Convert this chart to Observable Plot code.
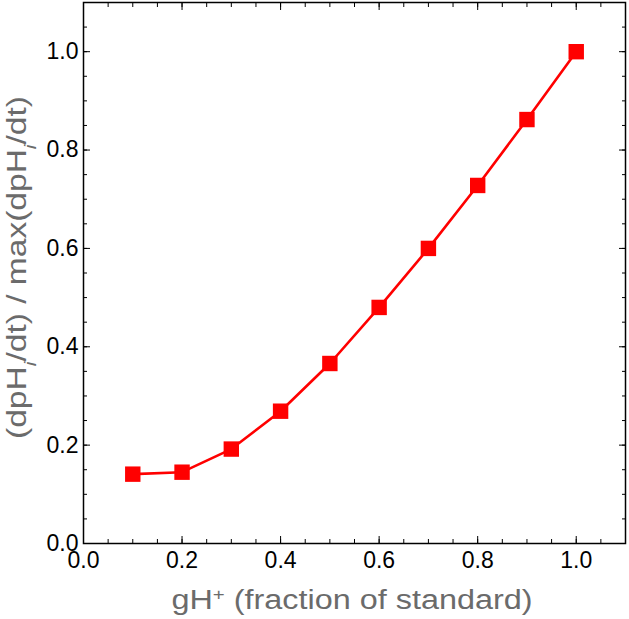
<!DOCTYPE html>
<html><head><meta charset="utf-8">
<script src="https://cdn.jsdelivr.net/npm/d3@7"></script>
<script src="https://cdn.jsdelivr.net/npm/@observablehq/plot@0.6"></script>
<style>html,body{margin:0;padding:0;background:#fff}</style>
</head><body><div id="chart"></div>
<script>
const gH = [0.1, 0.2, 0.3, 0.4, 0.5, 0.6, 0.7, 0.8, 0.9, 1.0];
const rate = [0.141, 0.145, 0.192, 0.269, 0.366, 0.480, 0.600, 0.728, 0.862, 1.0];
const majorTicks = [0, 0.2, 0.4, 0.6, 0.8, 1.0];
const minorTicks = [0, 0.05, 0.1, 0.15, 0.2, 0.25, 0.3, 0.35, 0.4, 0.45, 0.5, 0.55, 0.6, 0.65, 0.7, 0.75, 0.8, 0.85, 0.9, 0.95, 1.0, 1.05];
const xTitle = ["gH", "+", " (fraction of standard)"];
const yTitle = ["(dpH", "i", "/dt) / max(dpH", "i", "/dt)"];

const W = 629, H = 619, mL = 83, mR = 4, mT = 2, mB = 76;
const data = gH.map((x, i) => ({x, y: rate[i]}));
const fmt = d => d.toFixed(1);

function ticksX(anchor, ticks, len) {
  return Plot.axisX(ticks, {anchor, tickSize: len, dy: anchor === "bottom" ? -len : len, fill: "none", label: null, stroke: "#000", strokeWidth: 1});
}
function ticksY(anchor, ticks, len) {
  return Plot.axisY(ticks, {anchor, tickSize: len, dx: anchor === "left" ? len : -len, fill: "none", label: null, stroke: "#000", strokeWidth: 1});
}

const plot = Plot.plot({
  width: W, height: H,
  marginLeft: mL, marginRight: mR, marginTop: mT, marginBottom: mB,
  x: {domain: [0, 1.1]},
  y: {domain: [0, 1.1]},
  style: {fontFamily: "'Liberation Sans', Arial, Helvetica, sans-serif", background: "#fff", color: "#000"},
  marks: [
    ticksX("bottom", minorTicks, 4), ticksX("bottom", majorTicks, 7),
    ticksX("top", minorTicks, 4), ticksX("top", majorTicks, 7),
    ticksY("left", minorTicks, 4), ticksY("left", majorTicks, 7),
    ticksY("right", minorTicks, 4), ticksY("right", majorTicks, 7),
    Plot.axisX(majorTicks, {anchor: "bottom", tickSize: 0, tickPadding: 8, tickFormat: fmt, label: null, fontSize: 23, fill: "#000"}),
    Plot.axisY(majorTicks, {anchor: "left", tickSize: 0, tickPadding: 5, tickFormat: fmt, label: null, fontSize: 23, fill: "#000"}),
    Plot.frame({stroke: "#000", strokeWidth: 1.5}),
    Plot.line(data, {x: "x", y: "y", stroke: "#ff0000", strokeWidth: 2.6}),
    Plot.dot(data, {x: "x", y: "y", symbol: "square", r: 8.7, fill: "#ff0000", stroke: "none"})
  ]
});

const svg = d3.select(plot);
const cx = (mL + (W - mR)) / 2;
const cy = (mT + (H - mB)) / 2;

function addTitle(parts, scriptIdx, shift, attrs) {
  const t = svg.append("text")
    .attr("fill", "#6b6b6b")
    .attr("font-size", 27)
    .attr("text-anchor", "middle")
    .attr("lengthAdjust", "spacingAndGlyphs");
  for (const [k, v] of Object.entries(attrs)) t.attr(k, v);
  parts.forEach((p, i) => {
    const s = t.append("tspan").text(p);
    if (scriptIdx.includes(i)) {
      s.attr("font-size", 17).attr("baseline-shift", shift);
      if (shift === "sub") s.attr("font-style", "italic");
    }
  });
}
addTitle(xTitle, [1], "super", {x: cx - 2, y: 609, textLength: 361});
addTitle(yTitle, [1, 3], "sub", {transform: `translate(26,${cy - 5}) rotate(-90)`, textLength: 343});

document.getElementById("chart").appendChild(plot);
</script>
</body></html>
